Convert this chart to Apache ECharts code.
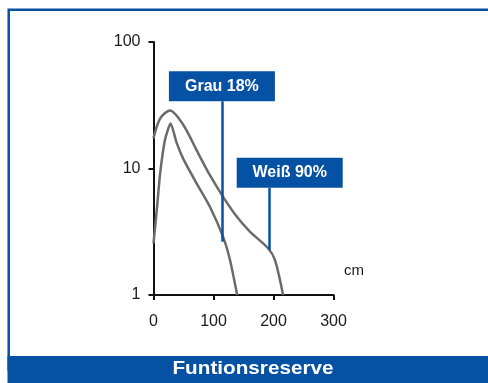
<!DOCTYPE html>
<html>
<head>
<meta charset="utf-8">
<script src="https://cdn.jsdelivr.net/npm/echarts@6/dist/echarts.min.js"></script>
<style>
  html, body { margin: 0; padding: 0; background: #fff; }
  #chart { width: 488px; height: 383px; }
</style>
</head>
<body>
<div id="chart"></div>
<script>
// Distance (cm) vs. functional reserve, log scale
const weissX = [0, 11, 27.5, 50, 72, 94, 116, 139, 161, 191, 202.5, 216];
const weissY = [17.3, 24.8, 28.8, 22, 13.9, 8.85, 5.97, 4.15, 3.16, 2.34, 1.89, 1.0];
const grauX = [0, 6, 11, 19, 28.5, 38.5, 50, 72, 94, 116, 127.5, 139.5];
const grauY = [2.56, 5.0, 9.1, 16.7, 22.7, 16.0, 11.8, 7.6, 4.98, 2.88, 1.89, 1.0];

// Callout labels: text, pointer x, pointer start/end y, box centre
const calloutText = ['Weiß 90%', 'Grau 18%'];
const pointerX = [192.5, 115];
const pointerFrom = [2.27, 2.64];
const pointerTo = [7.03, 34];
const boxX = [227, 114];
const boxY = [9.27, 44.6];

const xTicks = [0, 100, 200, 300];
const yTicks = [1, 10, 100];

const BLUE = '#0551a3';
const GRAY = '#6b6b6b';
const FONT = '"Liberation Sans", Arial, sans-serif';

function pairs(xs, ys) { return xs.map((x, i) => [x, ys[i]]); }

function curve(name, data, i, smooth) {
  return {
    name: name,
    type: 'line',
    data: data,
    smooth: smooth,
    symbol: 'none',
    lineStyle: { color: GRAY, width: 2.5 },
    markLine: {
      silent: true,
      symbol: 'none',
      label: { show: false },
      lineStyle: { color: BLUE, width: 2.5, type: 'solid' },
      data: [[{ coord: [pointerX[i], pointerFrom[i]] }, { coord: [pointerX[i], pointerTo[i]] }]]
    },
    markPoint: {
      silent: true,
      symbol: 'rect',
      symbolSize: [106, 30],
      itemStyle: { color: BLUE },
      label: {
        show: true, position: 'inside', formatter: calloutText[i],
        color: '#fff', fontWeight: 'bold', fontSize: 16, fontFamily: FONT
      },
      data: [{ coord: [boxX[i], boxY[i]] }]
    }
  };
}

const chart = echarts.init(document.getElementById('chart'), null, { renderer: 'canvas' });
chart.setOption({
  animation: false,
  backgroundColor: '#fff',
  grid: { left: 153.5, right: 154.5, top: 42, bottom: 88, containLabel: false },
  xAxis: {
    type: 'value', min: xTicks[0], max: xTicks[xTicks.length - 1], interval: 100,
    axisLine: { lineStyle: { color: '#111', width: 2 } },
    axisTick: { show: true, length: 5, lineStyle: { color: '#111', width: 2 } },
    axisLabel: { margin: 19, color: '#1a1a1a', fontSize: 16, fontFamily: FONT },
    splitLine: { show: false }
  },
  yAxis: {
    type: 'log', logBase: 10, min: yTicks[0], max: yTicks[yTicks.length - 1],
    axisLine: { show: true, lineStyle: { color: '#111', width: 2 } },
    axisTick: { show: true, length: 5, lineStyle: { color: '#111', width: 2 } },
    axisLabel: { margin: 13, color: '#1a1a1a', fontSize: 16, fontFamily: FONT },
    splitLine: { show: false }
  },
  series: [
    curve('Weiß 90%', pairs(weissX, weissY), 0, 0.3),
    curve('Grau 18%', pairs(grauX, grauY), 1, 0.2)
  ],
  graphic: [
    {
      type: 'rect', silent: true, z: -1,
      shape: { x: 8.7, y: 9.7, width: 500, height: 360 },
      style: { fill: 'none', stroke: BLUE, lineWidth: 2.5 }
    },
    {
      type: 'rect', silent: true,
      shape: { x: 7.5, y: 356, width: 481, height: 27 },
      style: { fill: BLUE }
    },
    {
      type: 'text', silent: true,
      x: 253, y: 369.5, scaleX: 1.15,
      style: {
        text: 'Funtionsreserve', fill: '#fff', align: 'center', verticalAlign: 'middle',
        font: 'bold 18px ' + FONT
      }
    },
    {
      type: 'text', silent: true,
      x: 344, y: 271,
      style: {
        text: 'cm', fill: '#1a1a1a', align: 'left', verticalAlign: 'middle',
        font: '15px ' + FONT
      }
    }
  ]
});
</script>
</body>
</html>
